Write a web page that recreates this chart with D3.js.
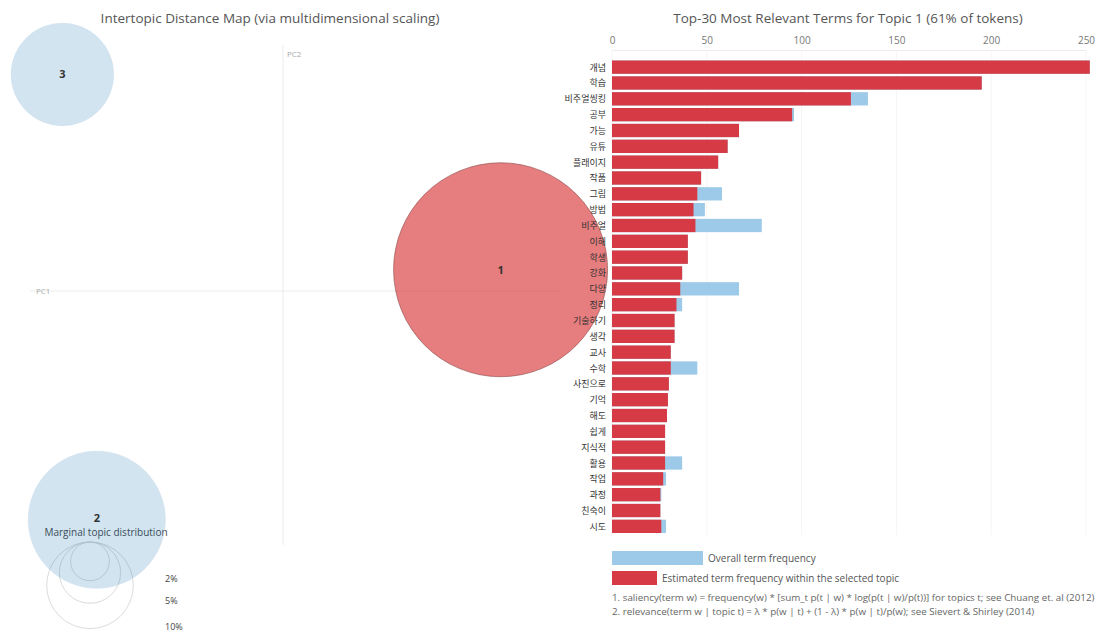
<!DOCTYPE html>
<html>
<head>
<meta charset="utf-8">
<script src="https://cdn.jsdelivr.net/npm/d3@7"></script>
<style>
  html, body { margin: 0; padding: 0; background: #fff; }
  svg { display: block; font-family: "Open Sans", "Noto Sans", "Noto Sans CJK KR", sans-serif; }
</style>
</head>
<body>
<svg id="chart" width="1117" height="632"></svg>
<script>
// ---------------- data ----------------
const terms = ["개념","학습","비주얼씽킹","공부","가능","유튜","플래이지","작품","그림","방법",
  "비주얼","이해","학생","강화","다양","정리","기술하기","생각","교사","수학",
  "사진으로","기억","해도","쉽게","지식적","활용","작업","과정","친숙이","시도"];
const topicFreq = [252,195,126,95,67,61,56,47,45,43,
  44,40,40,37,36,34,33,33,31,31,
  30,29.5,29,28,28,28,27,25.5,25.5,26];
const overallFreq = [252,195,135,96,67,61,56,47,58,49,
  79,40,40,37,67,37,33,33,31,45,
  30,29.5,29,28,28,37,28.5,26,25.5,28.5];
const xTicks = [0,50,100,150,200,250];

const topicIds = [1,2,3];
const topicPC1 = [0.215,-0.184,-0.218];
const topicPC2 = [0.021,-0.226,0.214];
const topicShare = [61,25,14];
const legendShares = [2,5,10];

// ---------------- setup ----------------
const svg = d3.select("#chart");
const textCol = "#555";

// ---------------- left panel: MDS ----------------
const xMds = d3.scaleLinear().domain([-0.25,0.25]).range([30,536]);
const yMds = d3.scaleLinear().domain([-0.25,0.25]).range([544,38]);
const rScale = d3.scaleSqrt().domain([0,61]).range([0,107]);

svg.append("text").attr("x",270).attr("y",23).attr("text-anchor","middle")
  .attr("font-size",13.5).attr("fill",textCol)
  .text("Intertopic Distance Map (via multidimensional scaling)");

svg.append("line").attr("x1",xMds(0)).attr("x2",xMds(0)).attr("y1",45).attr("y2",545)
  .attr("stroke","#ececec").attr("stroke-width",1);
svg.append("line").attr("x1",30).attr("x2",560).attr("y1",yMds(0)).attr("y2",yMds(0))
  .attr("stroke","#ececec").attr("stroke-width",1);
svg.append("text").attr("x",xMds(0)+4).attr("y",57).attr("font-size",8).attr("fill","#aaa").text("PC2");
svg.append("text").attr("x",36).attr("y",294).attr("font-size",8).attr("fill","#aaa").text("PC1");

// legend circles (marginal topic distribution)
const legCx = 90, legTop = 542;
svg.append("text").attr("x",106).attr("y",536).attr("text-anchor","middle")
  .attr("font-size",10).attr("fill","#444").text("Marginal topic distribution");
legendShares.forEach(s => {
  const r = rScale(s);
  svg.append("circle").attr("cx",legCx).attr("cy",legTop + r).attr("r",r)
    .attr("fill","none").attr("stroke","#ccc").attr("stroke-opacity",0.7);
  svg.append("text").attr("x",165).attr("y",legTop + 2*r + 1)
    .attr("font-size",9).attr("fill","#444").text(s + "%");
});

// ---------------- right panel: bars ----------------
const xBar = d3.scaleLinear().domain([0,250]).range([612,1086]);
const yBar = d3.scaleBand().domain(terms).range([60.5,533]).paddingInner(0.16);

svg.append("text").attr("x",848).attr("y",23).attr("text-anchor","middle")
  .attr("font-size",13.5).attr("fill",textCol)
  .text("Top-30 Most Relevant Terms for Topic 1 (61% of tokens)");

const axis = d3.axisTop(xBar).tickValues(xTicks).tickSize(0).tickPadding(6);
const ax = svg.append("g").attr("transform","translate(0,50)").call(axis);
ax.select(".domain").attr("stroke","#f3eaea");
ax.selectAll("text").attr("font-size",10).attr("fill","#777")
  .attr("font-family","\"Open Sans\", sans-serif");

svg.append("g").selectAll("line").data(xTicks).join("line")
  .attr("x1",d=>xBar(d)).attr("x2",d=>xBar(d)).attr("y1",50).attr("y2",535)
  .attr("stroke","#f5f5f5");

// topic circles (drawn under right panel labels)
const topics = topicIds.map((id,i)=>({id, x:topicPC1[i], y:topicPC2[i], s:topicShare[i]}));
svg.append("g").selectAll("circle").data(topics).join("circle")
  .attr("cx",d=>xMds(d.x)).attr("cy",d=>yMds(d.y)).attr("r",d=>rScale(d.s))
  .attr("fill",d=>d.id===1 ? "#d62728" : "#1f77b4")
  .attr("fill-opacity",d=>d.id===1 ? 0.6 : 0.2)
  .attr("stroke",d=>d.id===1 ? "#8a4a4a" : "#cfe0ee")
  .attr("stroke-opacity",0.6).attr("stroke-width",1);
svg.append("g").selectAll("text").data(topics).join("text")
  .attr("x",d=>xMds(d.x)).attr("y",d=>yMds(d.y)+(d.id===2 ? 2 : 4)).attr("text-anchor","middle")
  .attr("font-size",11).attr("font-weight","bold").attr("fill","#333")
  .text(d=>d.id);

const rows = terms.map((t,i)=>({t, tf:topicFreq[i], of:overallFreq[i]}));
svg.append("g").selectAll("rect").data(rows).join("rect")
  .attr("x",xBar(0)).attr("y",d=>yBar(d.t)).attr("height",yBar.bandwidth())
  .attr("width",d=>xBar(d.of)-xBar(0)).attr("fill","#9ecae9");
svg.append("g").selectAll("rect").data(rows).join("rect")
  .attr("x",xBar(0)).attr("y",d=>yBar(d.t)).attr("height",yBar.bandwidth())
  .attr("width",d=>xBar(d.tf)-xBar(0)).attr("fill","#d63a44");
svg.append("g").selectAll("text").data(rows).join("text")
  .attr("x",606).attr("y",d=>yBar(d.t)+yBar.bandwidth()/2+3.5)
  .attr("text-anchor","end").attr("font-size",9)
  .attr("font-family","\"Noto Sans CJK KR\", sans-serif").attr("fill","#333")
  .text(d=>d.t);

// legend
svg.append("rect").attr("x",612).attr("y",551).attr("width",91).attr("height",14).attr("fill","#9ecae9");
svg.append("text").attr("x",708).attr("y",561.5).attr("font-size",10).attr("fill","#555").text("Overall term frequency");
svg.append("rect").attr("x",612).attr("y",571).attr("width",45).attr("height",14).attr("fill","#d63a44");
svg.append("text").attr("x",662).attr("y",581.5).attr("font-size",10).attr("fill","#555")
  .text("Estimated term frequency within the selected topic");
svg.append("text").attr("x",612).attr("y",601).attr("font-size",9.8).attr("fill","#666")
  .text("1. saliency(term w) = frequency(w) * [sum_t p(t | w) * log(p(t | w)/p(t))] for topics t; see Chuang et. al (2012)");
svg.append("text").attr("x",612).attr("y",615).attr("font-size",9.8).attr("fill","#666")
  .text("2. relevance(term w | topic t) = λ * p(w | t) + (1 - λ) * p(w | t)/p(w); see Sievert & Shirley (2014)");
</script>
</body>
</html>
